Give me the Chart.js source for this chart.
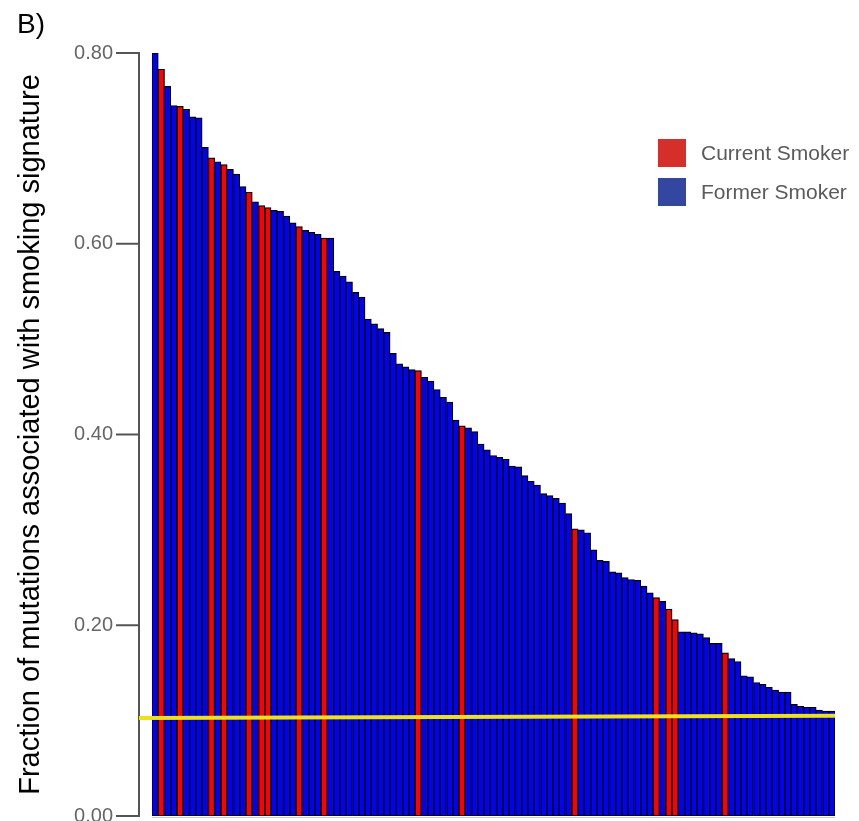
<!DOCTYPE html>
<html>
<head>
<meta charset="utf-8">
<script src="https://cdn.jsdelivr.net/npm/chart.js@4/dist/chart.umd.min.js"></script>
<style>
  html, body { margin: 0; padding: 0; background: #fff; }
  #wrap { position: relative; width: 859px; height: 821px; }
</style>
</head>
<body>
<div id="wrap"><canvas id="c" width="859" height="821"></canvas></div>
<script>
// ---- data ----
const panelLabel = 'B)';
const yTitle = 'Fraction of mutations associated with smoking signature';
const yTicks = [0, 0.2, 0.4, 0.6, 0.8];
const legendLabels = ['Current Smoker', 'Former Smoker'];

// fraction of mutations per sample (sorted, descending)
const fractions = [
  0.800, 0.783, 0.765, 0.745, 0.744, 0.741, 0.733, 0.732, 0.701, 0.690,
  0.686, 0.683, 0.678, 0.673, 0.660, 0.654, 0.644, 0.640, 0.638, 0.635,
  0.634, 0.629, 0.622, 0.618, 0.614, 0.612, 0.610, 0.606, 0.606, 0.571,
  0.566, 0.560, 0.549, 0.544, 0.521, 0.516, 0.511, 0.507, 0.485, 0.474,
  0.471, 0.468, 0.467, 0.460, 0.456, 0.447, 0.439, 0.434, 0.415, 0.409,
  0.407, 0.403, 0.390, 0.384, 0.378, 0.376, 0.374, 0.367, 0.366, 0.357,
  0.351, 0.347, 0.338, 0.336, 0.333, 0.328, 0.317, 0.301, 0.300, 0.297,
  0.279, 0.268, 0.267, 0.256, 0.255, 0.250, 0.248, 0.247, 0.241, 0.234,
  0.229, 0.225, 0.217, 0.206, 0.193, 0.193, 0.192, 0.191, 0.187, 0.181,
  0.181, 0.171, 0.165, 0.162, 0.147, 0.146, 0.140, 0.138, 0.135, 0.132,
  0.130, 0.130, 0.117, 0.115, 0.114, 0.114, 0.111, 0.110, 0.110
];
// smoking status per sample: C = current, F = former
const status = [
  'F','C','F','F','C','F','F','F','F','C',
  'F','C','F','F','F','C','F','C','C','F',
  'F','F','F','C','F','F','F','C','F','F',
  'F','F','F','F','F','F','F','F','F','F',
  'F','F','C','F','F','F','F','F','F','C',
  'F','F','F','F','F','F','F','F','F','F',
  'F','F','F','F','F','F','F','C','F','F',
  'F','F','F','F','F','F','F','F','F','F',
  'C','F','C','C','F','F','F','F','F','F',
  'F','C','F','F','F','F','F','F','F','F',
  'F','F','F','F','F','F','F','F','F'
];
// sample ranks used as categories
const samples = fractions.map((v, i) => String(i + 1));
// threshold (yellow) line: value at left and right ends
const thresholdStart = 0.1027;
const thresholdEnd = 0.1050;

// ---- styles ----
const FONT = "'Liberation Sans', Arial, sans-serif";
const barColor = { C: '#ff0000', F: '#0000ff' };
const legendColors = ['#d62f29', '#3447a0'];

const decorPlugin = {
  id: 'decor',
  afterDraw(chart) {
    const ctx = chart.ctx;
    const y = chart.scales.y;
    const area = chart.chartArea;
    const axisX = area.left - 13;
    ctx.save();
    // y axis line
    ctx.strokeStyle = '#555';
    ctx.lineWidth = 2;
    ctx.beginPath();
    ctx.moveTo(axisX, y.getPixelForValue(0) + 1);
    ctx.lineTo(axisX, y.getPixelForValue(0.8));
    ctx.stroke();
    // tick marks
    yTicks.forEach(t => {
      const py = y.getPixelForValue(t);
      ctx.beginPath();
      ctx.moveTo(axisX - 23, py);
      ctx.lineTo(axisX + 1, py);
      ctx.stroke();
    });
    // faint baseline under bars
    ctx.strokeStyle = '#c8c8c8';
    ctx.lineWidth = 1;
    ctx.beginPath();
    ctx.moveTo(area.left, y.getPixelForValue(0) + 1.5);
    ctx.lineTo(area.right, y.getPixelForValue(0) + 1.5);
    ctx.stroke();
    // threshold line
    ctx.strokeStyle = '#ece11e';
    ctx.lineWidth = 4;
    ctx.beginPath();
    ctx.moveTo(axisX, y.getPixelForValue(thresholdStart));
    ctx.lineTo(area.right, y.getPixelForValue(thresholdEnd));
    ctx.stroke();
    // panel label
    ctx.fillStyle = '#000';
    ctx.font = '28px ' + FONT;
    ctx.textBaseline = 'alphabetic';
    ctx.textAlign = 'left';
    ctx.fillText(panelLabel, 17, 33);
    // legend
    ctx.font = '21px ' + FONT;
    ctx.textBaseline = 'middle';
    legendLabels.forEach((lab, i) => {
      const top = 139 + i * 39;
      ctx.fillStyle = legendColors[i];
      ctx.fillRect(658, top, 28, 28);
      ctx.fillStyle = '#5a5a5a';
      ctx.fillText(lab, 701, top + 15);
    });
    ctx.restore();
  }
};

new Chart(document.getElementById('c'), {
  type: 'bar',
  data: {
    labels: samples,
    datasets: [{
      data: fractions,
      backgroundColor: status.map(s => barColor[s]),
      borderColor: '#000',
      borderWidth: 1.2,
      borderSkipped: false,
      barPercentage: 1.0,
      categoryPercentage: 1.0
    }]
  },
  options: {
    responsive: false,
    animation: false,
    devicePixelRatio: 1,
    layout: { padding: { left: 16, right: 24, top: 53, bottom: 5 } },
    plugins: {
      legend: { display: false },
      title: { display: false },
      tooltip: { enabled: false }
    },
    scales: {
      x: { display: false, offset: true },
      y: {
        min: 0, max: 0.8,
        afterFit(s) { s.width = 136; s.paddingTop = 0; s.paddingBottom = 0; },
        afterBuildTicks(s) { s.ticks = yTicks.map(v => ({ value: v })); },
        ticks: {
          padding: 39,
          color: '#666',
          font: { family: FONT, size: 20 },
          callback: v => Number(v).toFixed(2)
        },
        grid: { display: false, drawTicks: false },
        border: { display: false },
        title: {
          display: true,
          text: yTitle,
          color: '#000',
          padding: { top: 0, bottom: 0 },
          font: { family: FONT, size: 29, lineHeight: 1 }
        }
      }
    }
  },
  plugins: [decorPlugin]
});
</script>
</body>
</html>
